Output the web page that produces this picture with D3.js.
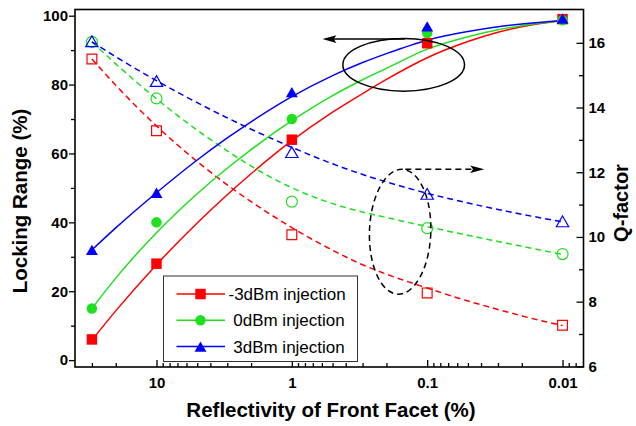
<!DOCTYPE html>
<html><head><meta charset="utf-8">
<script src="https://cdn.jsdelivr.net/npm/d3@7"></script>
<style>body{margin:0;background:#fff} svg{display:block;background:#fff} text{font-family:"Liberation Sans",Arial,sans-serif}</style>
</head><body><svg id="c" width="636" height="426"></svg>
<script>
// ---- data ----
const reflectivity = [30, 10, 1, 0.1, 0.01];
const lockM3 = [6, 28, 64, 92, 99];
const lock0 = [15, 40, 70, 95, 98.7];
const lockP3 = [32, 48.6, 77.8, 96.9, 99.2];
const qM3 = [15.5, 13.28, 10.07, 8.27, 7.27];
const q0 = [16.03, 14.28, 11.09, 10.27, 9.47];
const qP3 = [16.05, 14.82, 12.62, 11.33, 10.48];

const fitX = [30, 20, 10, 5, 3, 2, 1, 0.5, 0.3, 0.2, 0.1, 0.05, 0.03, 0.02, 0.01];
const fitLockM3 = [5.8, 14.3, 27.7, 39.8, 48.0, 54.1, 63.7, 72.0, 77.4, 81.5, 87.8, 92.5, 95.2, 96.8, 98.6];
const fitLock0 = [15, 23.8, 37.0, 48.3, 55.7, 61.1, 69.5, 76.8, 81.4, 84.7, 90.3, 93.9, 95.9, 97.1, 98.6];
const fitLockP3 = [32, 38.4, 48.6, 58.1, 64.5, 69.2, 76.5, 82.6, 86.4, 89.0, 92.9, 95.4, 96.8, 97.6, 98.6];
const fitQM3 = [15.5, 14.69, 13.43, 12.33, 11.61, 11.09, 10.29, 9.59, 9.14, 8.85, 8.42, 8.02, 7.76, 7.56, 7.26];
const fitQ0 = [16.03, 15.35, 14.27, 13.30, 12.66, 12.19, 11.52, 11.03, 10.77, 10.60, 10.32, 10.05, 9.86, 9.71, 9.46];
const fitQP3 = [16.03, 15.57, 14.83, 14.15, 13.68, 13.33, 12.77, 12.26, 11.93, 11.70, 11.35, 11.05, 10.85, 10.70, 10.47];

const seriesNames = ["-3dBm injection", " 0dBm injection", " 3dBm injection"];
const xMajor = [10, 1, 0.1, 0.01];
const xMajorLabels = ["10", "1", "0.1", "0.01"];
const xMinor = [30, 20, 9, 8, 7, 6, 5, 4, 3, 2, 0.9, 0.8, 0.7, 0.6, 0.5, 0.4, 0.3, 0.2,
  0.09, 0.08, 0.07, 0.06, 0.05, 0.04, 0.03, 0.02, 0.009, 0.008];
const yLMajor = [0, 20, 40, 60, 80, 100];
const yLMinor = [10, 30, 50, 70, 90];
const yRMajor = [6, 8, 10, 12, 14, 16];
const yRMinor = [7, 9, 11, 13, 15];

// annotation anchors in data units
const ellipseSolid = {x0: 0.42, x1: 0.053, y0: 78.1, y1: 93.4};
const arrowSolid = {from: 0.146, to: 0.594, y: 93.2};
const ellipseDashed = {x0: 0.267, x1: 0.094, y0: 8.23, y1: 12.09};
const arrowDashed = {from: 0.145, to: 0.0379, y: 12.09};

// ---- scales ----
const x = d3.scaleLog().domain([40, 0.007]).range([75, 583.5]);
const yL = d3.scaleLinear().domain([-2, 101.8]).range([367, 9.5]);
const yR = d3.scaleLinear().domain([5.98, 17.03]).range([367, 9.5]);

const RED = "#ff0000", GREEN = "#1fe01f", BLUE = "#0000ff";
const colors = [RED, GREEN, BLUE];
const FONT = '"Liberation Sans",Arial,sans-serif';

const svg = d3.select("#c");

function styleAxis(g) {
  g.select(".domain").remove();
  g.attr("font-size", 15).attr("font-weight", "bold").attr("font-family", FONT);
  g.selectAll("line").attr("stroke", "#000").attr("stroke-width", 1.3);
  g.selectAll("text").attr("fill", "#000");
}

// axes
svg.append("g").attr("transform", `translate(0,${yL.range()[0]})`)
  .call(d3.axisBottom(x).tickValues(xMajor).tickFormat((d, i) => xMajorLabels[i]).tickSize(-7).tickPadding(10)).call(styleAxis);
svg.append("g").attr("transform", `translate(0,${yL.range()[0]})`)
  .call(d3.axisBottom(x).tickValues(xMinor).tickFormat(() => "").tickSize(-4)).call(styleAxis);
svg.append("g").attr("transform", `translate(${x.range()[0]},0)`)
  .call(d3.axisLeft(yL).tickValues(yLMajor).tickFormat(d3.format("d")).tickSize(6).tickPadding(1)).call(styleAxis);
svg.append("g").attr("transform", `translate(${x.range()[0]},0)`)
  .call(d3.axisLeft(yL).tickValues(yLMinor).tickFormat(() => "").tickSize(4)).call(styleAxis);
svg.append("g").attr("transform", `translate(${x.range()[1]},0)`)
  .call(d3.axisRight(yR).tickValues(yRMajor).tickFormat(d3.format("d")).tickSize(-7).tickPadding(5)).call(styleAxis);
svg.append("g").attr("transform", `translate(${x.range()[1]},0)`)
  .call(d3.axisRight(yR).tickValues(yRMinor).tickFormat(() => "").tickSize(-4.5)).call(styleAxis);

// frame
svg.append("rect")
  .attr("x", x.range()[0]).attr("y", yL.range()[1])
  .attr("width", x.range()[1] - x.range()[0]).attr("height", yL.range()[0] - yL.range()[1])
  .attr("fill", "none").attr("stroke", "#000").attr("stroke-width", 1.6);

// axis titles
svg.append("text").attr("x", 331).attr("y", 417).attr("text-anchor", "middle")
  .attr("font-size", 20.5).attr("font-weight", "bold").text("Reflectivity of Front Facet (%)");
svg.append("text").attr("transform", "translate(27,201) rotate(-90)").attr("text-anchor", "middle")
  .attr("font-size", 20.5).attr("font-weight", "bold").text("Locking Range (%)");
svg.append("text").attr("transform", "translate(628,203) rotate(-90)").attr("text-anchor", "middle")
  .attr("font-size", 20).attr("font-weight", "bold").text("Q-factor");

// fit curves
function fitPath(ys, yScale) {
  return d3.line().x((d, i) => x(fitX[i])).y(d => yScale(d)).curve(d3.curveMonotoneX)(ys);
}
const qFits = [fitQM3, fitQ0, fitQP3];
const lockFits = [fitLockM3, fitLock0, fitLockP3];
qFits.forEach((ys, i) => {
  svg.append("path").attr("d", fitPath(ys, yR)).attr("fill", "none")
    .attr("stroke", colors[i]).attr("stroke-width", 1.5).attr("stroke-dasharray", "6,4");
});
lockFits.forEach((ys, i) => {
  svg.append("path").attr("d", fitPath(ys, yL)).attr("fill", "none")
    .attr("stroke", colors[i]).attr("stroke-width", 1.5);
});

// markers
const triShift = Math.sqrt(62 / (Math.sqrt(3) * 3)) / 2;
const symFilled = [
  {type: d3.symbolSquare, size: 110, dy: 0},
  {type: d3.symbolCircle, size: 87, dy: 0},
  {type: d3.symbolTriangle, size: 62, dy: triShift}
];
const symOpen = [
  {type: d3.symbolSquare, size: 96, dy: 0},
  {type: d3.symbolCircle, size: 95, dy: 0},
  {type: d3.symbolTriangle, size: 66, dy: Math.sqrt(66 / (Math.sqrt(3) * 3)) / 2}
];
const qData = [qM3, q0, qP3];
const lockData = [lockM3, lock0, lockP3];

qData.forEach((ys, i) => {
  const s = symOpen[i];
  svg.append("g").selectAll("path").data(ys).join("path")
    .attr("transform", (d, j) => `translate(${x(reflectivity[j])},${yR(d) + s.dy})`)
    .attr("d", d3.symbol().type(s.type).size(s.size))
    .attr("fill", "none").attr("stroke", colors[i]).attr("stroke-width", 1.2);
});
lockData.forEach((ys, i) => {
  const s = symFilled[i];
  svg.append("g").selectAll("path").data(ys).join("path")
    .attr("transform", (d, j) => `translate(${x(reflectivity[j])},${yL(d) + s.dy})`)
    .attr("d", d3.symbol().type(s.type).size(s.size))
    .attr("fill", colors[i]);
});

// annotations
function arrowHead(tipX, tipY, dir) {
  const L = 14, W = 3.8;
  return `M${tipX},${tipY}L${tipX - dir * L},${tipY - W}L${tipX - dir * L * 0.8},${tipY}L${tipX - dir * L},${tipY + W}Z`;
}
{
  const cx = (x(ellipseSolid.x0) + x(ellipseSolid.x1)) / 2, cy = (yL(ellipseSolid.y0) + yL(ellipseSolid.y1)) / 2;
  const rx = Math.abs(x(ellipseSolid.x1) - x(ellipseSolid.x0)) / 2, ry = Math.abs(yL(ellipseSolid.y0) - yL(ellipseSolid.y1)) / 2;
  svg.append("ellipse").attr("cx", cx).attr("cy", cy).attr("rx", rx).attr("ry", ry)
    .attr("fill", "none").attr("stroke", "#000").attr("stroke-width", 1.5);
  const ay = yL(arrowSolid.y), x1 = x(arrowSolid.from), x2 = x(arrowSolid.to);
  svg.append("line").attr("x1", x1).attr("x2", x2 + 10).attr("y1", ay).attr("y2", ay)
    .attr("stroke", "#000").attr("stroke-width", 1.5);
  svg.append("path").attr("d", arrowHead(x2, ay, -1)).attr("fill", "#000");
}
{
  const cx = (x(ellipseDashed.x0) + x(ellipseDashed.x1)) / 2, cy = (yR(ellipseDashed.y0) + yR(ellipseDashed.y1)) / 2;
  const rx = Math.abs(x(ellipseDashed.x1) - x(ellipseDashed.x0)) / 2, ry = Math.abs(yR(ellipseDashed.y0) - yR(ellipseDashed.y1)) / 2;
  svg.append("ellipse").attr("cx", 0).attr("cy", 0).attr("rx", rx).attr("ry", ry)
    .attr("transform", `translate(${cx},${cy}) rotate(2)`)
    .attr("fill", "none").attr("stroke", "#000").attr("stroke-width", 1.5).attr("stroke-dasharray", "6,4");
  const ay = yR(arrowDashed.y), x1 = x(arrowDashed.from), x2 = x(arrowDashed.to);
  svg.append("line").attr("x1", x1).attr("x2", x2 - 10).attr("y1", ay).attr("y2", ay)
    .attr("stroke", "#000").attr("stroke-width", 1.5).attr("stroke-dasharray", "6,4");
  svg.append("path").attr("d", arrowHead(x2, ay, 1)).attr("fill", "#000");
}

// legend
const lg = svg.append("g");
lg.append("rect").attr("x", 163.5).attr("y", 276).attr("width", 194).attr("height", 85.5)
  .attr("fill", "#fff").attr("stroke", "#333").attr("stroke-width", 1);
seriesNames.forEach((name, i) => {
  const cy = 294 + i * 26.3;
  lg.append("line").attr("x1", 176.5).attr("x2", 225).attr("y1", cy).attr("y2", cy)
    .attr("stroke", colors[i]).attr("stroke-width", 1.5);
  const s = symFilled[i];
  lg.append("path").attr("transform", `translate(200.5,${cy + s.dy})`)
    .attr("d", d3.symbol().type(s.type).size(s.size)).attr("fill", colors[i]);
  lg.append("text").attr("x", 228.5).attr("y", cy + 6).attr("font-size", 17)
    .style("white-space", "pre").text(name);
});
</script></body></html>
